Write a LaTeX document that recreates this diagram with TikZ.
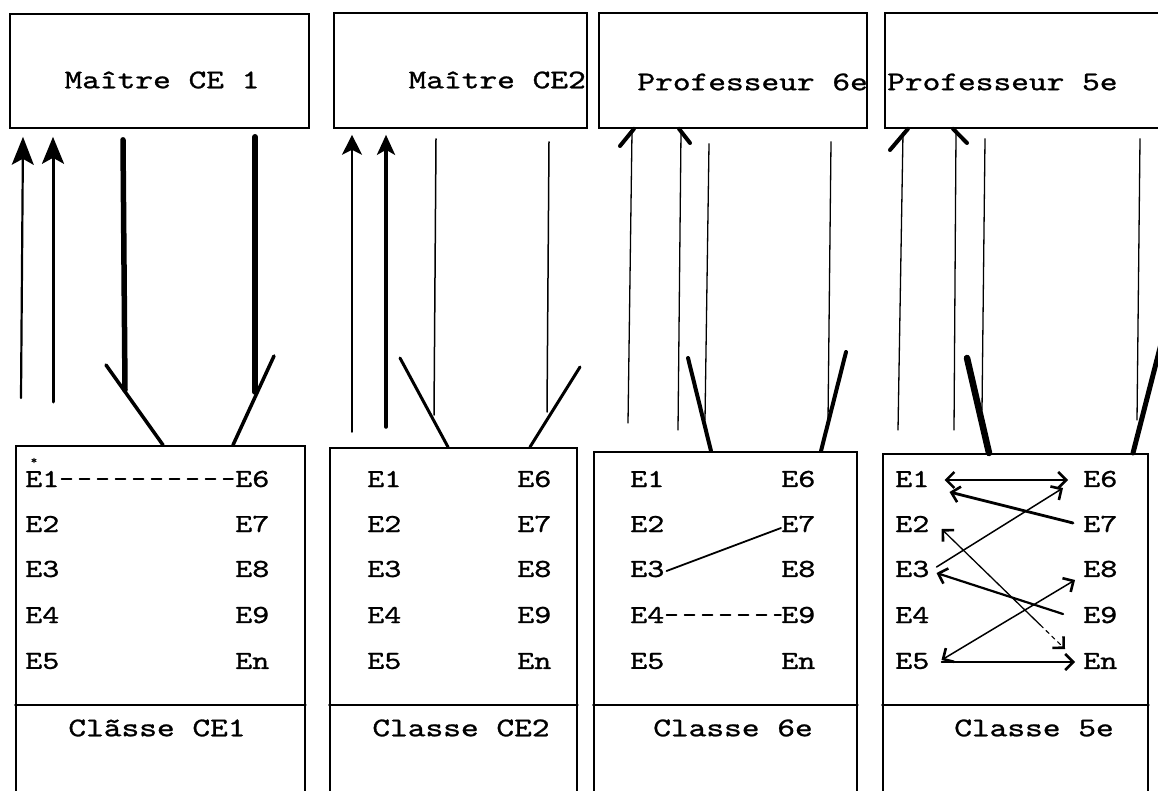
\documentclass[tikz,border=0pt]{standalone}
\usepackage{fontspec}
\usetikzlibrary{arrows.meta,calc}
% typewriter face, slightly emboldened and widened
\newfontfamily\tyf{lmmono10-regular.otf}[FakeBold=0.9]
\newcommand{\tw}[1]{\scalebox{1.25}[1]{#1}}

\begin{document}
\begin{tikzpicture}[x=1pt,y=-1pt,line cap=round,
  box/.style={draw,line width=1.8pt,anchor=north west,inner sep=0pt},
  head/.style={font=\tyf\fontsize{27}{30}\selectfont,inner sep=0pt},
  elab/.style={font=\tyf\fontsize{26}{28}\selectfont,inner sep=0pt,anchor=west},
  barb/.style={line width=1.6pt,{Straight Barb[length=8pt,width=16pt,line width=2.6pt]}-{Straight Barb[length=8pt,width=16pt,line width=2.6pt]}},
  tobarb/.style={line width=1.6pt,-{Straight Barb[length=8pt,width=16pt,line width=2.6pt]}},
  bighead/.style={-{Stealth[length=#1,width=22pt,inset=6pt]}},
  smallhead/.style={-{Stealth[length=20pt,width=#1,inset=5pt]}},
  stroke/.style={line width=#1}
]
\useasboundingbox (0,0) rectangle (1158,791);
\clip (0,0) rectangle (1158,791);

% teachers
\node[box,minimum width=299pt,minimum height=114pt] (t1) at (9,13) {};
\node[box,minimum width=253pt,minimum height=115pt] (t2) at (333,12) {};
\node[box,minimum width=268pt,minimum height=115pt] (t3) at (598,12) {};
\node[box,minimum width=300pt,minimum height=115pt] (t4) at (884,12) {};
\node[head] (h1) at (162,80) {\tw{Maître CE 1}};
\node[head,anchor=east] (h2) at (586,80) {\tw{Maître CE2}};
\node[head,anchor=east] (h3) at (868,82) {\tw{Professeur 6e}};
\node[head,anchor=west] (h4) at (887,82) {\tw{Professeur 5e}};

% classes
\node[box,minimum width=289pt,minimum height=360pt] (cl1) at (15,445) {};
\node[box,minimum width=247pt,minimum height=360pt] (cl2) at (329,447) {};
\node[box,minimum width=263pt,minimum height=360pt] (cl3) at (593,451) {};
\node[box,minimum width=265pt,minimum height=360pt] (cl4) at (882,453) {};
\foreach \c in {cl1,cl2,cl3,cl4}
  \draw[line width=1.8pt] (\c.west |- 0,705) -- (\c.east |- 0,705);
\node[head] (l1) at (157,728) {\tw{Clãsse CE1}};
\node[head] (l2) at (461,728) {\tw{Classe CE2}};
\node[head] (l3) at (733,728) {\tw{Classe 6e}};
\node[head] (l4) at (1034,728) {\tw{Classe 5e}};

% pupils
\foreach \b/\xl/\xr in {a/25/235, b/367/517, c/630/781, d/895/1083} {
  \node[elab] (\b1) at (\xl,479) {\tw{E1}};
  \node[elab] (\b2) at (\xl,524) {\tw{E2}};
  \node[elab] (\b3) at (\xl,569) {\tw{E3}};
  \node[elab] (\b4) at (\xl,615) {\tw{E4}};
  \node[elab] (\b5) at (\xl,661) {\tw{E5}};
  \node[elab] (\b6) at (\xr,479) {\tw{E6}};
  \node[elab] (\b7) at (\xr,524) {\tw{E7}};
  \node[elab] (\b8) at (\xr,569) {\tw{E8}};
  \node[elab] (\b9) at (\xr,615) {\tw{E9}};
  \node[elab] (\b n) at (\xr,661) {\tw{En}};
}
\node[font=\tyf\fontsize{12}{12}\selectfont,inner sep=0pt] (star) at (34,461) {*};

% links between pupils
\draw[line width=1.5pt,dash pattern=on 10pt off 8pt] ($(a1.east)+(2,0)$) -- ($(a6.west)+(-2,0)$);
\draw[line width=1.8pt] ($(c3.east)+(2,2)$) -- ($(c7.west)+(0,4)$);
\draw[line width=1.5pt,dash pattern=on 10pt off 8pt] ($(c4.east)+(2,0)$) -- ($(c9.west)+(0,0)$);

\draw[barb] ($(d1.east)+(15,1)$) -- ($(d6.west)+(-15,1)$);
\draw[tobarb,line width=2.8pt] ($(d7.west)+(-10,-1)$) -- ($(d1.east)+(20,13)$);
\draw[tobarb,line width=1.5pt] ($(d3.east)+(7,-2)$) -- ($(d6.west)+(-20,9)$);
\coordinate (e2s) at ($(d2.east)+(12,5)$);
\coordinate (ens) at ($(dn.west)+(-18,-12)$);
\coordinate (emid) at ($(e2s)!0.8!(ens)$);
\draw[line width=1.3pt,{Straight Barb[length=8pt,width=16pt,line width=2.6pt]}-] (e2s) -- (emid);
\draw[line width=1.1pt,dash pattern=on 4pt off 4pt,-{Straight Barb[length=8pt,width=16pt,line width=2.6pt]}] (emid) -- (ens);
\draw[tobarb,line width=2.2pt] ($(d9.west)+(-20,-1)$) -- ($(d3.east)+(7,4)$);
\draw[barb,line width=1.5pt] ($(d5.east)+(12,-1)$) -- ($(d8.west)+(-8,11)$);
\draw[tobarb,line width=1.5pt] ($(d5.east)+(12,1)$) -- ($(dn.west)+(-8,1)$);

% panel CE1
\draw[stroke=2.2pt,bighead=28pt] (21,398) -- ($(23,0 |- t1.south)+(0,8)$);
\draw[stroke=3pt,bighead=27pt] (53,402) -- ($(53,0 |- t1.south)+(0,8)$);
\draw[stroke=5.5pt] ($(123,0 |- t1.south)+(0,11)$) -- (125,390);
\draw[stroke=3.5pt] (106,365) -- (163,0 |- cl1.north);
\draw[stroke=5.5pt] ($(255,0 |- t1.south)+(0,8)$) -- (255,392);
\draw[stroke=3.5pt] (274,356) -- (233,0 |- cl1.north);

% panel CE2
\draw[stroke=1.5pt,smallhead=20pt] (352,432) -- ($(352,0 |- t2.south)+(0,6)$);
\draw[stroke=3.5pt,smallhead=18pt] (386,427) -- ($(386,0 |- t2.south)+(0,6)$);
\draw[stroke=1.5pt] ($(436,0 |- t2.south)+(0,10)$) -- (434,415);
\draw[stroke=3pt] (400,358) -- (448,0 |- cl2.north);
\draw[stroke=1.5pt] ($(549,0 |- t2.south)+(0,13)$) -- (547,412);
\draw[stroke=3pt] (580,367) -- (530,0 |- cl2.north);

% panel 6e
\draw[stroke=1.3pt] (628,423) -- ($(632,0 |- t3.south)+(0,3)$);
\draw[stroke=4pt] (620,146) -- (634,0 |- t3.south);
\draw[stroke=1.3pt] (678,430) -- ($(681,0 |- t3.south)+(0,3)$);
\draw[stroke=4pt] (679,0 |- t3.south) -- (690,143);
\draw[stroke=1.3pt] ($(709,0 |- t3.south)+(0,15)$) -- (705,420);
\draw[stroke=4pt] (688,358) -- (711,0 |- cl3.north);
\draw[stroke=1.3pt] ($(831,0 |- t3.south)+(0,13)$) -- (828,420);
\draw[stroke=4pt] (846,352) -- (821,0 |- cl3.north);

% panel 5e
\draw[stroke=1.3pt] (898,430) -- ($(903,0 |- t4.south)+(0,4)$);
\draw[stroke=4pt] (890,150) -- (908,0 |- t4.south);
\draw[stroke=1.3pt] (954,430) -- ($(956,0 |- t4.south)+(0,4)$);
\draw[stroke=4pt] (953,0 |- t4.south) -- (967,143);
\draw[stroke=1.3pt] ($(985,0 |- t4.south)+(0,10)$) -- (982,410);
\draw[stroke=6.5pt] (967,358) -- (989,0 |- cl4.north);
\draw[stroke=1.3pt] ($(1140,0 |- t4.south)+(0,10)$) -- (1137,420);
\draw[stroke=5pt] (1162,340) -- (1133,0 |- cl4.north);
\end{tikzpicture}
\end{document}
